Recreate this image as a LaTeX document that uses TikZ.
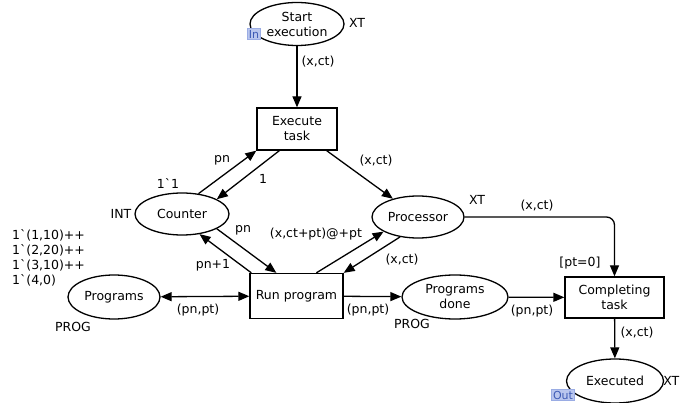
\documentclass[tikz,border=0pt]{standalone}
\usepackage{fontspec}
\setmainfont{DejaVu Sans}[Ligatures=TeXOff]
\usetikzlibrary{shapes.geometric,arrows.meta,calc}
\definecolor{tagfill}{HTML}{B9C6EE}
\definecolor{tagdraw}{HTML}{9AACE4}
\definecolor{tagtext}{HTML}{3D5AB5}
\begin{document}
\begin{tikzpicture}[x=1pt,y=-1pt,
  every node/.style={font=\fontsize{12.5}{15}\selectfont, inner sep=0pt},
  place/.style={draw, ellipse, line width=1.3pt, minimum width=94pt, minimum height=43pt, align=center},
  trans/.style={draw, rectangle, line width=1.3pt, align=center},
  arr/.style={line width=1.3pt, -{Triangle[length=11pt,width=9pt]}},
  darr/.style={line width=1.3pt, {Triangle[length=11pt,width=9pt]}-{Triangle[length=11pt,width=9pt]}},
  tag/.style={draw=tagdraw, fill=tagfill, text=tagtext, font=\fontsize{11}{11}\selectfont, inner sep=1.5pt, line width=0.6pt},
  lbl/.style={}
]
\useasboundingbox (0,0) rectangle (680,403);

% places and transitions
\node[place] (start) at (297,24) {Start\\execution};
\node[trans, minimum width=80pt, minimum height=42pt] (exec) at (297,129) {Execute\\task};
\node[place, minimum height=42pt] (counter) at (182,214) {Counter};
\node[place, minimum width=92pt, minimum height=42pt] (proc) at (418,217) {Processor};
\node[place, minimum width=92pt, minimum height=44pt] (progs) at (114,297) {Programs};
\node[trans, minimum width=93pt, minimum height=45pt] (run) at (296.5,296) {Run program};
\node[place, minimum width=106pt, minimum height=44pt] (done) at (455,297) {Programs\\done};
\node[trans, minimum width=99pt, minimum height=41pt] (comp) at (614.5,297.5) {Completing\\task};
\node[place, minimum width=97pt, minimum height=44pt] (exed) at (615,381) {Executed};

% tags
\node[tag] (intag) at (254,34) {In};
\node[tag] (outtag) at (563,395) {Out};

% connectors
\draw[arr] (start) -- (exec);
\draw[arr] (counter.51) -- (exec.south west);
\draw[arr] ([xshift=23pt]exec.south west) -- (counter.23);
\draw[arr] ([xshift=-11pt]exec.south east) -- (proc.144);
\draw[arr] (counter.-23) -- ([xshift=27pt]run.north west);
\draw[arr] ([xshift=2pt]run.north west) -- (counter.-49);
\draw[arr] ([xshift=67pt]run.north west) -- (proc.203);
\draw[arr] (proc.228) -- (run.north east);
\draw[darr] (progs) -- (run);
\draw[arr] (run) -- (done);
\draw[arr] (done) -- (comp);
\draw[arr, rounded corners=8pt] (proc.east) -| (comp.north);
\draw[arr] (comp) -- (exed);

% labels
\node[lbl] (l1) at (318,62) {(x,ct)};
\node[lbl] (l2) at (357,23) {XT};
\node[lbl] (l3) at (376,161) {(x,ct)};
\node[lbl] (l4) at (222,160) {pn};
\node[lbl] (l5) at (263,179) {1};
\node[lbl] (l6) at (168,184) {1`1};
\node[lbl] (l7) at (121,214) {INT};
\node[lbl] (l8) at (243,230) {pn};
\node[lbl] (l9) at (213,265) {pn+1};
\node[lbl] (l10) at (316,234) {(x,ct+pt)@+pt};
\node[lbl] (l11) at (402,260) {(x,ct)};
\node[lbl] (l12) at (477,200) {XT};
\node[lbl] (l13) at (537,206) {(x,ct)};
\node[lbl] (l14) at (580,263) {[pt=0]};
\node[lbl] (l15) at (198,310) {(pn,pt)};
\node[lbl] (l16) at (368,310) {(pn,pt)};
\node[lbl] (l17) at (532,311) {(pn,pt)};
\node[lbl] (l18) at (73,327) {PROG};
\node[lbl] (l19) at (412,324) {PROG};
\node[lbl] (l20) at (637,333) {(x,ct)};
\node[lbl, anchor=east] (l21) at (679.5,381) {XT};
\node[lbl, anchor=north west, align=left, font=\fontsize{12.5}{15}\selectfont] (mark) at (12,229) {1`(1,10)++\\1`(2,20)++\\1`(3,10)++\\1`(4,0)};
\end{tikzpicture}
\end{document}
